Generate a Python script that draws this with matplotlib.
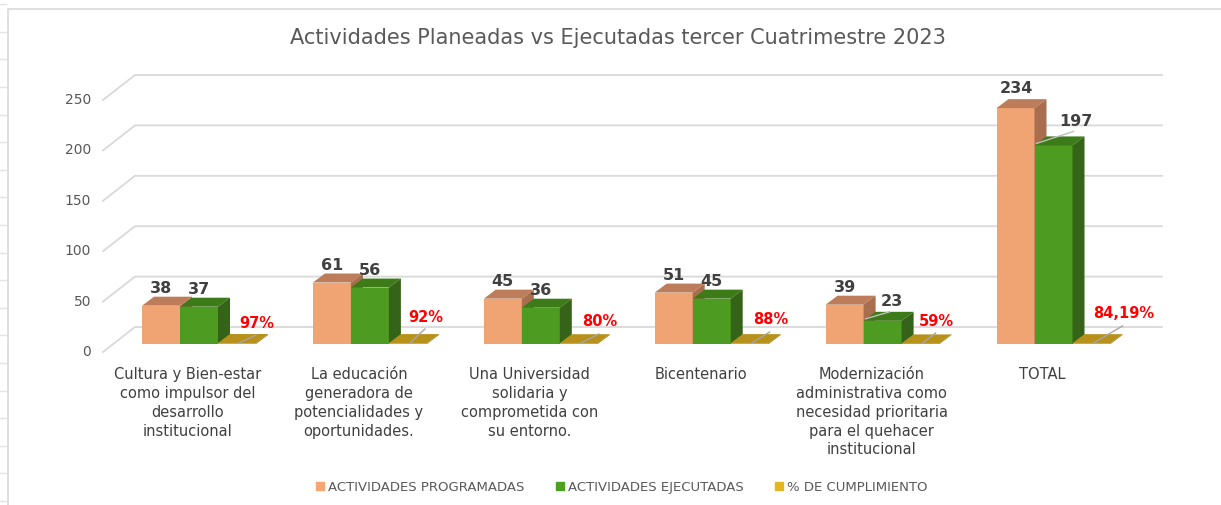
import numpy as np
import matplotlib.pyplot as plt
from matplotlib.patches import Polygon, Patch

# --- datos del grafico ---
categorias = [
    "Cultura y Bien-estar\ncomo impulsor del\ndesarrollo\ninstitucional",
    "La educación\ngeneradora de\npotencialidades y\noportunidades.",
    "Una Universidad\nsolidaria y\ncomprometida con\nsu entorno.",
    "Bicentenario",
    "Modernización\nadministrativa como\nnecesidad prioritaria\npara el quehacer\ninstitucional",
    "TOTAL",
]
programadas = [38, 61, 45, 51, 39, 234]
ejecutadas = [37, 56, 36, 45, 23, 197]
cumplimiento = [0.97, 0.92, 0.80, 0.88, 0.59, 0.8419]
etiquetas_pct = ["97%", "92%", "80%", "88%", "59%", "84,19%"]
ticks_y = [0, 50, 100, 150, 200, 250]

titulo = "Actividades Planeadas vs Ejecutadas tercer Cuatrimestre 2023"
series = ["ACTIVIDADES PROGRAMADAS", "ACTIVIDADES EJECUTADAS", "% DE CUMPLIMIENTO"]

# --- geometria (pixeles de la figura) ---
W, H = 1221, 506
FILA_CERO = 345          # fila del pie de las barras
S = 1.008                # pixeles por unidad
GRUPO0, PASO, ANCHO = 142, 170.9, 38
DX, DY = 12, 9 / S       # profundidad de la barra

# etiquetas movidas a mano (como en Excel)
mueve_ejec = {4: (9, 2), 5: (22, 7)}
mueve_prog = {5: (1, 3)}
pct_dx = [20, 18, 21, 21, 16, 32]
pct_dy = [22, 28, 23, 25, 24, 31]

colores = {
    "prog": ("#F0A373", "#BE7D5A", "#A86E4E"),
    "ejec": ("#4E9B22", "#3D7A18", "#356418"),
    "pct": ("#D6B12E", "#B8911B", "#9C7A15"),
}
leyenda_col = ["#F4A675", "#4E9F22", "#E3B61F"]


def val(fila):
    return (FILA_CERO - fila) / S


def barra_3d(ax, x, h, cols, z):
    frente, arriba, lado = cols
    ax.bar(x, h, width=ANCHO, align="edge", color=frente, lw=0, zorder=z)
    tapa = [(x, h), (x + DX, h + DY), (x + ANCHO + DX, h + DY), (x + ANCHO, h)]
    costado = [(x + ANCHO, 0), (x + ANCHO, h), (x + ANCHO + DX, h + DY), (x + ANCHO + DX, DY)]
    ax.add_patch(Polygon(tapa, closed=True, fc=arriba, ec="none", zorder=z))
    ax.add_patch(Polygon(costado, closed=True, fc=lado, ec="none", zorder=z))


fig = plt.figure(figsize=(W / 100, H / 100), dpi=100)
ax = fig.add_axes([0, 0, 1, 1])
ax.set_xlim(0, W)
ax.set_ylim(val(H), val(0))
ax.axis("off")

# borde del area del grafico y marcas de la hoja
ax.plot([8, 8, W], [val(H), val(10), val(10)], color="#D9D9D9", lw=1.2, zorder=0)
for r in np.arange(5.2, H, 27.6):
    ax.plot([0, 6], [val(r), val(r)], color="#E4E4E4", lw=1, zorder=0)

# lineas de division (frente diagonal + pared del fondo)
for v in ticks_y:
    yf = v - 8 / S
    yb = v + 17 / S
    ax.plot([103, 135, 1162], [yf, yb, yb], color="#D9D9D9", lw=1.3, zorder=1)
    ax.text(91, v - 7 / S, str(v), ha="right", va="center", fontsize=10, color="#595959")

for i, cat in enumerate(categorias):
    x0 = GRUPO0 + i * PASO
    xs = [x0, x0 + ANCHO, x0 + 2 * ANCHO]
    barra_3d(ax, xs[0], programadas[i], colores["prog"], 3)
    barra_3d(ax, xs[1], ejecutadas[i], colores["ejec"], 4)
    barra_3d(ax, xs[2], cumplimiento[i], colores["pct"], 5)

    # valores
    dx, dy = mueve_prog.get(i, (0, 0))
    ax.text(xs[0] + ANCHO / 2 + dx, programadas[i] + (18 + dy) / S, str(programadas[i]),
            ha="center", va="center", fontsize=11.5, fontweight="bold", color="#404040", zorder=7)
    dx, dy = mueve_ejec.get(i, (0, 0))
    ex, ey = xs[1] + ANCHO / 2 + dx, ejecutadas[i] + (18 + dy) / S
    ax.text(ex, ey, str(ejecutadas[i]), ha="center", va="center", fontsize=11.5,
            fontweight="bold", color="#404040", zorder=7)
    if i in mueve_ejec:
        ax.plot([xs[1] + 2, ex - 2], [ejecutadas[i] + 2 / S, ey - 11 / S],
                color="#BFBFBF", lw=1, zorder=6)

    # porcentaje
    gx = xs[2] + ANCHO / 2
    px, py = gx + pct_dx[i], pct_dy[i] / S
    ax.plot([gx + 2, px - 1], [1 / S, py - 13 / S], color="#A6A6A6", lw=1, zorder=6)
    ax.text(px, py, etiquetas_pct[i], ha="center", va="center", fontsize=10.5,
            fontweight="bold", color="#FF0000", zorder=7)

    # etiqueta de categoria
    ax.text(x0 + 46, val(367), cat, ha="center", va="top", multialignment="center",
            fontsize=10.5, color="#404040", linespacing=1.32)

fig.text(618 / W, 1 - 38 / H, titulo, ha="center", va="center", fontsize=15, color="#595959")

manijas = [Patch(color=c) for c in leyenda_col]
fig.legend(manijas, series, loc="center", bbox_to_anchor=(622 / W, 1 - 488 / H), ncol=3,
           frameon=False, fontsize=9.5, handlelength=0.6, handleheight=0.6,
           handletextpad=0.3, columnspacing=2.4, labelcolor="#595959")

fig.savefig("out.png", dpi=100)
